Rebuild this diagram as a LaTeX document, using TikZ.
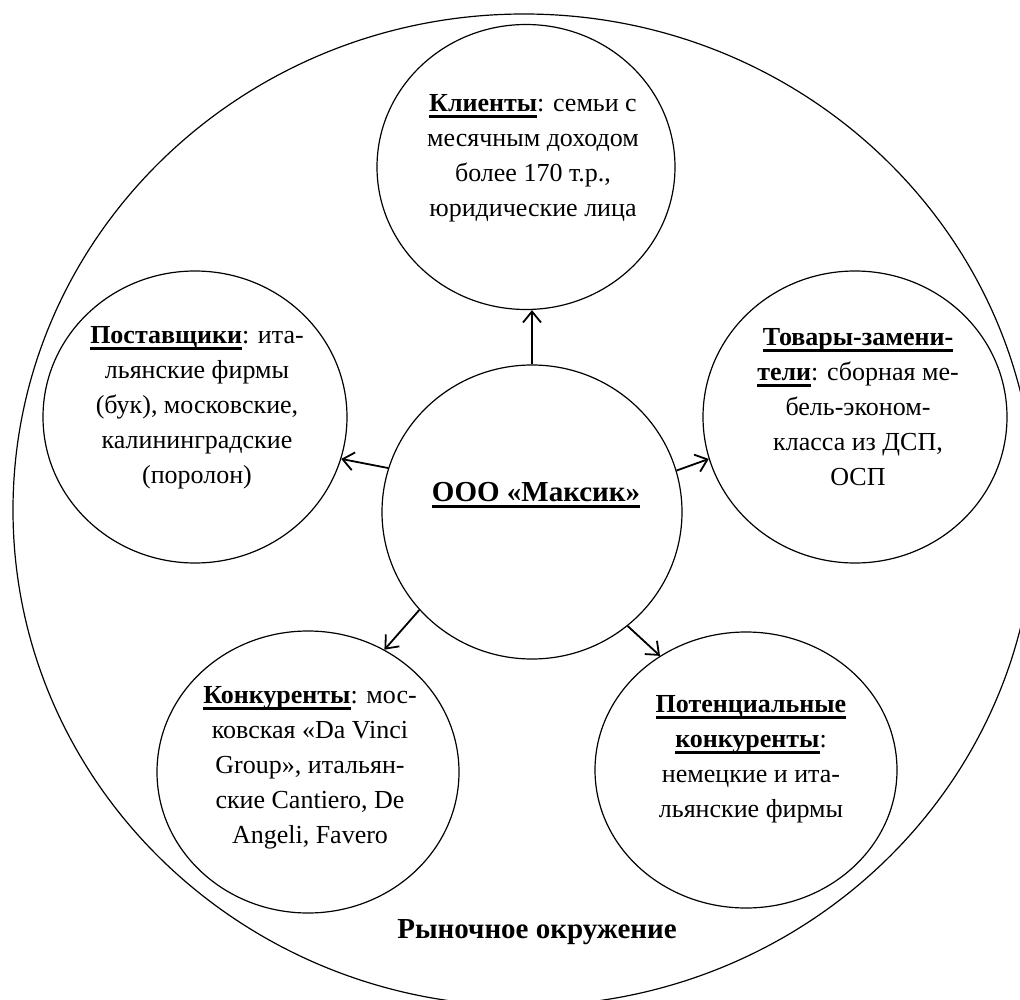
\documentclass[tikz,border=0pt]{standalone}
\usepackage{fontspec}
\setmainfont{Liberation Serif}
\usetikzlibrary{shapes.geometric,arrows.meta}
\newcommand\hdr[1]{\setbox0\hbox{\bfseries #1}\rlap{\rule[-6.5pt]{\wd0}{3pt}}\box0}
\tikzset{
  oval/.style={ellipse, draw=black, line width=1.2pt, inner sep=0pt},
  txt/.style={font=\fontsize{26}{35}\selectfont, align=center, inner sep=0pt, text=black},
  bigtxt/.style={font=\fontsize{29}{35}\selectfont, align=center, inner sep=0pt, text=black},
  arr/.style={-{Straight Barb[length=11pt,width=18pt]}, line width=1.8pt, black}
}
\begin{document}
\begin{tikzpicture}[x=1pt,y=-1pt]
\useasboundingbox (0,0) rectangle (1020,1000);
\fill[white] (0,0) rectangle (1020,1000);
\begin{scope}
  \clip (0,0) rectangle (1020,1000);
  \node[oval, minimum width=1022pt, minimum height=992pt] (env) at (524,510) {};
\end{scope}
% circles
\node[oval, minimum width=298pt, minimum height=285pt] (cl) at (526,167) {};
\node[oval, minimum width=300pt, minimum height=294pt] (c) at (532,512) {};
\node[oval, minimum width=304pt, minimum height=292pt] (sup) at (195,417) {};
\node[oval, minimum width=304pt, minimum height=292pt] (subs) at (855,417) {};
\node[oval, minimum width=302pt, minimum height=282pt] (comp) at (308,772) {};
\node[oval, minimum width=302pt, minimum height=276pt] (pot) at (746,770) {};
% texts
\node[txt] (tcl) at (533,158.5) {\hdr{Клиенты}: семьи с\\месячным доходом\\более 170 т.р.,\\юридические лица};
\node[txt] (tsup) at (197,407.5) {\hdr{Поставщики}: ита-\\льянские фирмы\\(бук), московские,\\калининградские\\(поролон)};
\node[txt] (tsubs) at (858,407.5) {\hdr{Товары-замени-}\\\hdr{тели}: сборная ме-\\бель-эконом-\\класса из ДСП,\\ОСП};
\node[txt] (tcomp) at (310,768) {\hdr{Конкуренты}: мос-\\ковская «Da Vinci\\Group», итальян-\\ские Cantiero, De\\Angeli, Favero};
\node[txt] (tpot) at (751,759) {\hdr{Потенциальные}\\\hdr{конкуренты}:\\немецкие и ита-\\льянские фирмы};
\node[bigtxt] (tc) at (536,495) {\hdr{ООО «Максик»}};
\node[bigtxt, font=\fontsize{29}{35}\selectfont\bfseries] (tenv) at (537,932) {Рыночное окружение};
% arrows
\draw[arr] (c.north) -- (c.north |- cl.south);
\draw[arr] (c.163) -- (sup.344);
\draw[arr] (c.16) -- (subs.196);
\draw[arr] (c.221) -- (comp.58);
\draw[arr] (c.310) -- (pot.127);
\end{tikzpicture}
\end{document}
